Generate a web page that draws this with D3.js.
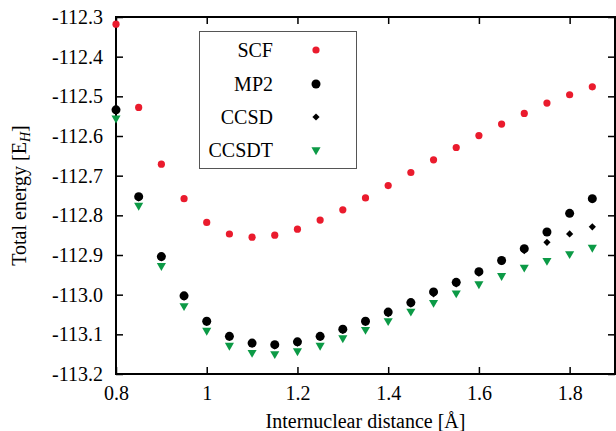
<!DOCTYPE html>
<html>
<head>
<meta charset="utf-8">
<script src="https://cdn.jsdelivr.net/npm/d3@7"></script>
<style>
  body { margin: 0; background: #fff; }
</style>
</head>
<body>
<svg width="616" height="431" font-family="'Liberation Serif', 'Times New Roman', serif"></svg>
<script>
// bond lengths (Å)
let distances = [0.8, 0.85, 0.9, 0.95, 1.0, 1.05, 1.1, 1.15, 1.2, 1.25, 1.3,
                 1.35, 1.4, 1.45, 1.5, 1.55, 1.6, 1.65, 1.7, 1.75, 1.8, 1.85];

let scfValues = [-112.318, -112.528, -112.671, -112.758, -112.818, -112.847, -112.855, -112.850,
                 -112.835, -112.812, -112.786, -112.756, -112.725, -112.692, -112.660, -112.629,
                 -112.599, -112.570, -112.543, -112.517, -112.496, -112.476];
let mp2Values = [-112.534, -112.753, -112.904, -113.003, -113.067, -113.105, -113.122, -113.126,
                 -113.119, -113.105, -113.087, -113.067, -113.044, -113.020, -112.993, -112.969,
                 -112.942, -112.914, -112.884, -112.842, -112.795, -112.758];
let ccsdValues = [-112.536, -112.756, -112.907, -113.006, -113.070, -113.108, -113.125, -113.129,
                  -113.122, -113.108, -113.090, -113.070, -113.048, -113.024, -112.998, -112.973,
                  -112.946, -112.917, -112.889, -112.868, -112.847, -112.829];
let ccsdtValues = [-112.555, -112.775, -112.927, -113.028, -113.090, -113.128, -113.146, -113.149,
                   -113.142, -113.128, -113.109, -113.088, -113.066, -113.042, -113.020, -112.996,
                   -112.973, -112.952, -112.931, -112.914, -112.897, -112.881];

let xTicks = [0.8, 1.0, 1.2, 1.4, 1.6, 1.8];
let yTicks = [-113.2, -113.1, -113.0, -112.9, -112.8, -112.7, -112.6, -112.5, -112.4, -112.3];

const FONT = "'Liberation Serif', 'Times New Roman', serif";

let svg = d3.select("svg");
let plotLeft = 116, plotRight = 615, plotTop = 17, plotBottom = 374;

let x = d3.scaleLinear().domain([0.8, 1.9]).range([plotLeft, plotRight]);
let y = d3.scaleLinear().domain([-113.2, -112.3]).range([plotBottom, plotTop]);

let fmtX = d3.format("~g");
let fmtY = d => d.toFixed(1);

// axes, ticks pointing inward on all four sides
let gx = svg.append("g").attr("transform", `translate(0,${plotBottom})`)
    .call(d3.axisBottom(x).tickValues(xTicks).tickSize(-7).tickPadding(12).tickFormat(fmtX));
let gxTop = svg.append("g").attr("transform", `translate(0,${plotTop})`)
    .call(d3.axisTop(x).tickValues(xTicks).tickSize(-7).tickFormat(""));
let gy = svg.append("g").attr("transform", `translate(${plotLeft},0)`)
    .call(d3.axisLeft(y).tickValues(yTicks).tickSize(-7).tickPadding(13).tickFormat(fmtY));
let gyRight = svg.append("g").attr("transform", `translate(${plotRight},0)`)
    .call(d3.axisRight(y).tickValues(yTicks).tickSize(-7).tickFormat(""));

[gx, gxTop, gy, gyRight].forEach(g => {
    g.attr("font-family", FONT).attr("font-size", 20);
    g.select(".domain").remove();
    g.selectAll(".tick line").attr("stroke", "#000").attr("stroke-width", 1.5);
    g.selectAll(".tick text").attr("fill", "#000");
});

svg.append("rect")
    .attr("x", plotLeft).attr("y", plotTop)
    .attr("width", plotRight - plotLeft).attr("height", plotBottom - plotTop)
    .attr("fill", "none").attr("stroke", "#000").attr("stroke-width", 2);

// axis titles
svg.append("text")
    .attr("x", (plotLeft + plotRight) / 2).attr("y", 428)
    .attr("text-anchor", "middle").attr("font-family", FONT).attr("font-size", 20)
    .text("Internuclear distance [Å]");

let yTitle = svg.append("text")
    .attr("transform", `translate(26,${(plotTop + plotBottom) / 2}) rotate(-90)`)
    .attr("text-anchor", "middle").attr("font-family", FONT).attr("font-size", 20);
yTitle.append("tspan").text("Total energy [E");
yTitle.append("tspan").attr("font-style", "italic").attr("font-size", 14).attr("dy", 4).text("H");
yTitle.append("tspan").attr("dy", -4).text("]");

// marker shapes
let series = [
    { name: "SCF",   values: scfValues,   fill: "#ea1b2d", path: d3.symbol(d3.symbolCircle, Math.PI * 3.6 * 3.6)(), rot: 0 },
    { name: "MP2",   values: mp2Values,   fill: "#000",    path: d3.symbol(d3.symbolCircle, Math.PI * 4.5 * 4.5)(), rot: 0 },
    { name: "CCSD",  values: ccsdValues,  fill: "#000",    path: d3.symbol(d3.symbolSquare, 26)(), rot: 45 },
    { name: "CCSDT", values: ccsdtValues, fill: "#0c9a46", path: d3.symbol(d3.symbolTriangle, 36)(), rot: 180 }
];

let plot = svg.append("g");
series.forEach(s => {
    plot.selectAll(null)
        .data(distances.map((d, i) => ({ x: d, y: s.values[i] })))
        .enter().append("path")
        .attr("d", s.path)
        .attr("fill", s.fill)
        .attr("transform", d => `translate(${x(d.x)},${y(d.y)}) rotate(${s.rot})`);
});

// legend
let legend = svg.append("g");
legend.append("rect")
    .attr("x", 199.5).attr("y", 31.5).attr("width", 157).attr("height", 137)
    .attr("fill", "#fff").attr("stroke", "#555").attr("stroke-width", 1);
let rowsY = [50, 84, 117, 150];
series.forEach((s, i) => {
    legend.append("text")
        .attr("x", 273).attr("y", rowsY[i]).attr("dy", "0.35em")
        .attr("text-anchor", "end").attr("font-family", FONT).attr("font-size", 20)
        .text(s.name);
    legend.append("path")
        .attr("d", s.path).attr("fill", s.fill)
        .attr("transform", `translate(316,${rowsY[i]}) rotate(${s.rot})`);
});
</script>
</body>
</html>
